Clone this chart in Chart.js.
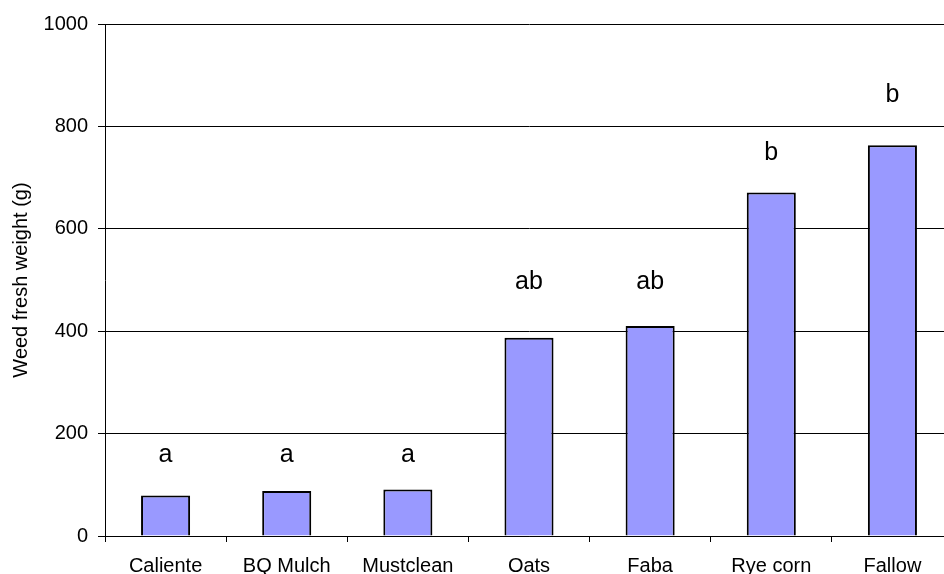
<!DOCTYPE html>
<html>
<head>
<meta charset="utf-8">
<script src="https://cdn.jsdelivr.net/npm/chart.js@4/dist/chart.umd.min.js"></script>
<style>
  html, body { margin: 0; padding: 0; background: #fff; overflow: hidden; }
  #wrap { width: 960px; height: 590px; }
</style>
</head>
<body>
<div id="wrap"><canvas id="weedChart" width="960" height="590"></canvas></div>
<script>
// treatments and weed fresh weight (g)
var treatments = ['Caliente', 'BQ Mulch', 'Mustclean', 'Oats', 'Faba', 'Rye corn', 'Fallow'];
var weedWeight = [79, 88, 91, 387, 410, 671, 763];
// significance letters and the height (in g) where their baseline sits
var sigLetters = ['a', 'a', 'a', 'ab', 'ab', 'b', 'b'];
var letterLevel = [145, 145, 145, 482, 482, 734, 848];
var yTicks = [0, 200, 400, 600, 800, 1000];

var FONT = "'Liberation Sans', Arial, sans-serif";

var letterPlugin = {
    id: 'sigLetters',
    afterDatasetsDraw: function (chart) {
        var ctx = chart.ctx;
        var xs = chart.scales.x, ys = chart.scales.y;
        ctx.save();
        ctx.fillStyle = '#000';
        ctx.font = '25px ' + FONT;
        ctx.textAlign = 'center';
        ctx.textBaseline = 'alphabetic';
        sigLetters.forEach(function (txt, i) {
            ctx.fillText(txt, xs.getPixelForValue(i), ys.getPixelForValue(letterLevel[i]));
        });
        ctx.restore();
    }
};

var ctx = document.getElementById('weedChart').getContext('2d');
var chart = new Chart(ctx, {
    type: 'bar',
    data: {
        labels: treatments,
        datasets: [{
            label: 'Weed fresh weight',
            data: weedWeight,
            backgroundColor: '#9999FF',
            borderColor: '#000',
            borderWidth: 2,
            barPercentage: 0.405,
            categoryPercentage: 1
        }]
    },
    options: {
        responsive: false,
        animation: false,
        devicePixelRatio: 1,
        layout: { padding: { top: 24, right: 7, left: 0, bottom: 0 } },
        plugins: {
            legend: { display: false },
            tooltip: { enabled: false }
        },
        scales: {
            x: {
                afterFit: function (scale) { scale.height = 54; },
                grid: {
                    offset: true,
                    drawOnChartArea: false,
                    color: '#000',
                    tickLength: 6
                },
                border: { color: '#000', width: 1 },
                ticks: {
                    color: '#000',
                    font: { family: FONT, size: 20 },
                    padding: 12,
                    autoSkip: false,
                    maxRotation: 0
                }
            },
            y: {
                min: 0,
                max: 1000,
                afterFit: function (scale) { scale.width = 105; },
                afterBuildTicks: function (scale) {
                    scale.ticks = yTicks.map(function (v) { return { value: v }; });
                },
                grid: { color: '#000', lineWidth: 1, tickLength: 7 },
                border: { color: '#000', width: 1 },
                ticks: {
                    color: '#000',
                    font: { family: FONT, size: 20 },
                    padding: 10,
                    callback: function (v) { return String(v); }
                },
                title: {
                    display: true,
                    text: 'Weed fresh weight (g)',
                    color: '#000',
                    font: { family: FONT, size: 20 },
                    padding: { top: 9, bottom: 0 }
                }
            }
        }
    },
    plugins: [letterPlugin]
});
</script>
</body>
</html>
